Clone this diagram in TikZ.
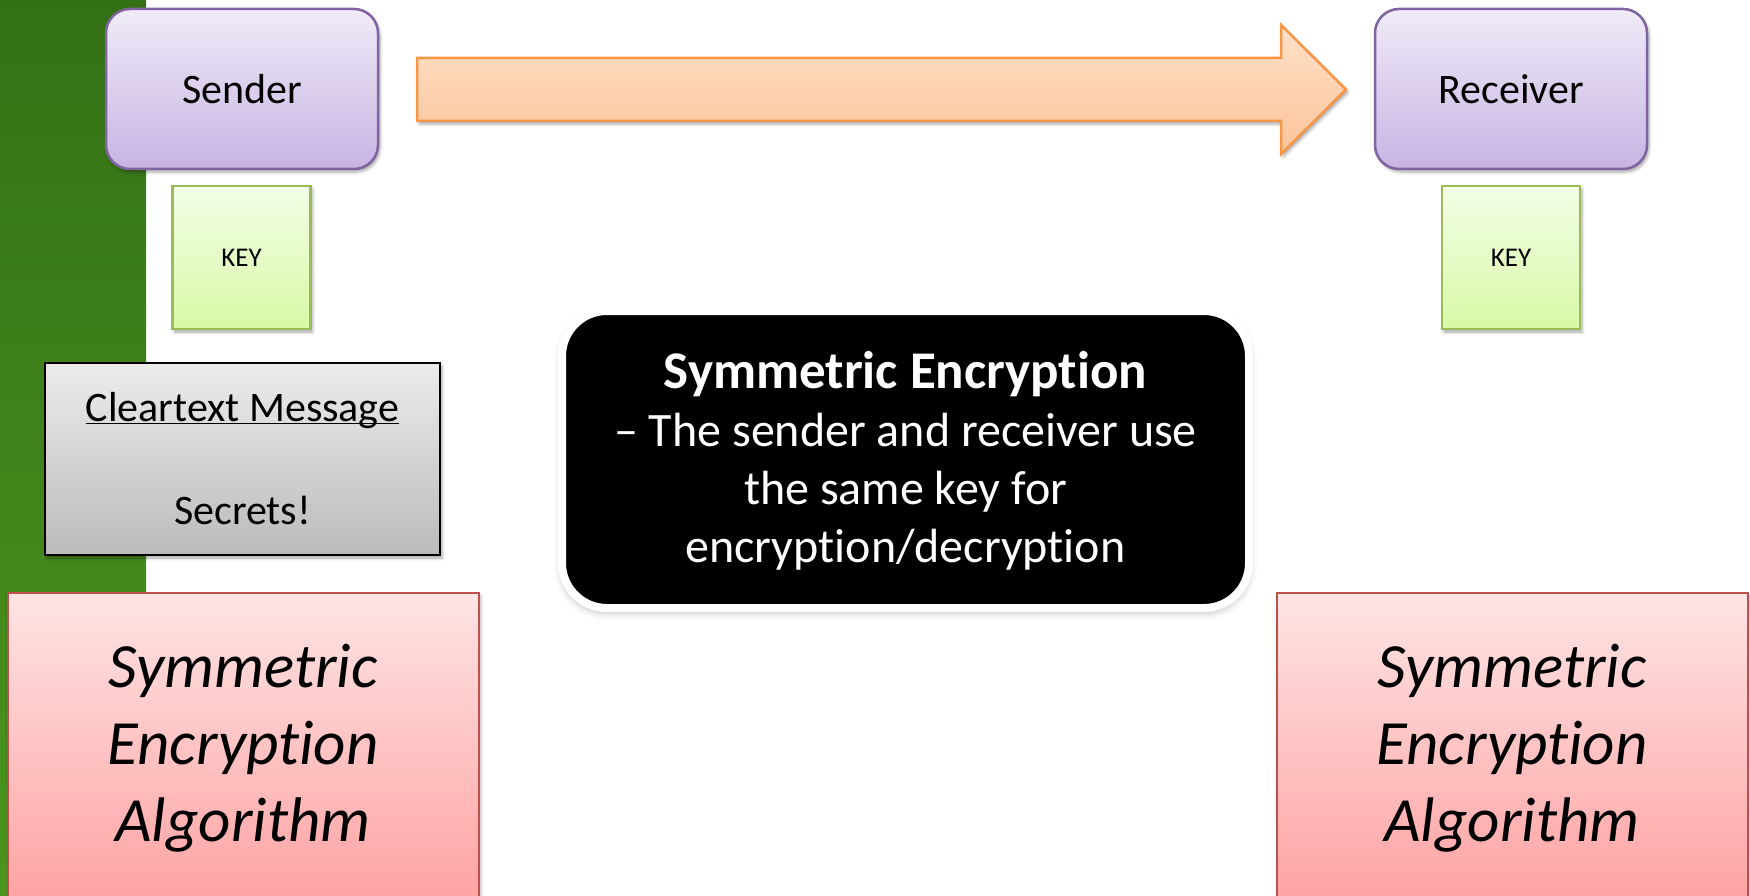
\documentclass[tikz,border=0pt]{standalone}
\usepackage{fontspec}
\setmainfont[Ligatures=NoCommon]{Carlito}
\usetikzlibrary{shadows.blur}
\definecolor{greentop}{RGB}{52,113,22}
\definecolor{greenbot}{RGB}{74,150,30}
\definecolor{purtop}{RGB}{240,235,248}
\definecolor{purbot}{RGB}{199,180,227}
\definecolor{purline}{RGB}{128,100,162}
\definecolor{keytop}{RGB}{243,254,230}
\definecolor{keybot}{RGB}{216,249,166}
\definecolor{keyline}{RGB}{155,187,89}
\definecolor{graytop}{RGB}{236,236,236}
\definecolor{graybot}{RGB}{187,187,187}
\definecolor{redtop}{RGB}{255,228,228}
\definecolor{redbot}{RGB}{255,163,163}
\definecolor{redline}{RGB}{192,80,77}
\definecolor{arrtop}{RGB}{254,225,200}
\definecolor{arrbot}{RGB}{252,196,154}
\definecolor{arrline}{RGB}{247,150,70}
\begin{document}
\begin{tikzpicture}[x=1pt,y=1pt,
  every node/.style={inner sep=0pt,outer sep=0pt},
  softshadow/.style={blur shadow={shadow xshift=2pt,shadow yshift=-3pt,shadow blur radius=3pt,shadow opacity=35}},
  partybox/.style={draw=purline,line width=2.5pt,rounded corners=24pt,top color=purtop,bottom color=purbot,
    minimum width=272pt,minimum height=160pt,softshadow,font=\fontsize{42}{50}\selectfont},
  keybox/.style={draw=keyline,line width=2.5pt,top color=keytop,bottom color=keybot,
    minimum width=138pt,minimum height=143pt,softshadow,font=\fontsize{27}{32}\selectfont},
  msgbox/.style={draw=black,line width=2pt,top color=graytop,bottom color=graybot,
    minimum width=395pt,minimum height=192pt,softshadow,align=center,font=\fontsize{42}{51}\selectfont},
  algbox/.style={draw=redline,line width=2pt,top color=redtop,bottom color=redbot,
    minimum width=471pt,minimum height=307pt,softshadow,align=center,font=\fontsize{63}{77}\selectfont\itshape},
  notebox/.style={draw=white,line width=8pt,fill=black,rounded corners=45pt,text=white,
    minimum width=687pt,minimum height=297pt,align=center,font=\fontsize{48}{58}\selectfont,
    blur shadow={shadow xshift=0pt,shadow yshift=-4pt,shadow blur radius=8pt,shadow opacity=30}}
]
\useasboundingbox (0,0) rectangle (1750,-896);
\clip (0,0) rectangle (1750,-896);
\shade[top color=greentop,bottom color=greenbot] (0,0) rectangle (146,-896);

\node[partybox] (sender) at (242,-89) {Sender};
\node[partybox] (receiver) at (1511,-89) {Receiver};
\node[keybox] (skey) at (241.5,-257.5) {KEY};
\node[keybox] (rkey) at (1511,-257.5) {KEY};

\draw[draw=arrline,line width=2.5pt,top color=arrtop,bottom color=arrbot,line join=miter,
  blur shadow={shadow xshift=2pt,shadow yshift=-3pt,shadow blur radius=3pt,shadow opacity=35}]
  (417,-58) -- (1281,-58) -- (1281,-25) -- (1346,-89.5) -- (1281,-154) -- (1281,-121) -- (417,-121) -- cycle;

\node[msgbox] (msg) at (242.5,-459) {\underline{\raisebox{0pt}[\height][0pt]{Cleartext Message}}\\[52pt]Secrets!};

\node[algbox] (salg) at (243,-746.5) {\rule{0pt}{47pt}Symmetric\\Encryption\\Algorithm};
\node[algbox] (ralg) at (1512,-746.5) {\rule{0pt}{47pt}Symmetric\\Encryption\\Algorithm};

\node[notebox] (note) at (905.5,-459.5) {{\fontsize{53}{58}\selectfont\bfseries\rule{0pt}{40pt}Symmetric Encryption}\\– The sender and receiver use\\the same key for\\encryption/decryption};
\end{tikzpicture}
\end{document}
